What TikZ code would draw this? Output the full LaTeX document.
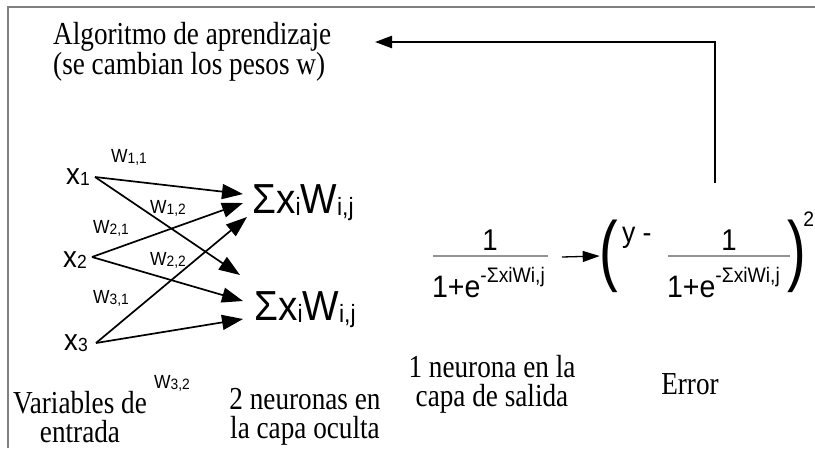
\documentclass[tikz,border=0pt]{standalone}
\usepackage{fontspec}
\setmainfont{Liberation Serif}
\newfontfamily\arial[FakeStretch=0.92]{Liberation Sans}
\newfontfamily\tms[FakeStretch=0.85]{Liberation Serif}
\usetikzlibrary{arrows.meta}
\newcommand\serifbig{\tms\fontsize{32}{29}\selectfont}
\newcommand\xin[1]{{\arial\fontsize{30}{30}\selectfont x\raisebox{-1.5pt}{\fontsize{19}{19}\selectfont #1}}}
\newcommand\wlab[1]{{\arial\fontsize{19}{19}\selectfont W\raisebox{-1pt}{\fontsize{15}{15}\selectfont #1}}}
\newcommand\sumlab{{\arial\fontsize{42}{42}\selectfont Σx\raisebox{-2pt}{\fontsize{25}{25}\selectfont i}W\raisebox{-2pt}{\fontsize{25}{25}\selectfont i,j}}}
\newcommand\denom{{\arial\fontsize{31}{31}\selectfont 1+e\raisebox{15pt}{\fontsize{21}{21}\selectfont -ΣxiWi,j}}}
\begin{document}
\begin{tikzpicture}[x=1pt,y=-1pt,
  net/.style={line width=1.7pt,-{Triangle[length=21pt,width=15pt]}},
  fb/.style={line width=2.3pt,-{Triangle[length=17pt,width=12pt]}},
  bar/.style={draw=gray!85,line width=1.3pt},
  lbl/.style={inner sep=0pt,outer sep=0pt},
  txt/.style={font=\serifbig,align=center,inner sep=0pt}]
\useasboundingbox (0,0) rectangle (815,448);
% frame
\draw[gray,line width=1.6pt] (8,448) -- (8,7) -- (815,7);
% title
\node[txt,align=left,anchor=west] (alg) at (53,52) {Algoritmo de aprendizaje\\(se cambian los pesos w)};
% inputs
\node[lbl] (x1) at (78,177) {\xin{1}};
\node[lbl] (x2) at (75,260) {\xin{2}};
\node[lbl] (x3) at (76,343) {\xin{3}};
\coordinate (s1) at (95,177);
\coordinate (s2) at (92,257);
\coordinate (s3) at (96,343);
% hidden
\node[lbl] (h1) at (303,203) {\sumlab};
\node[lbl] (h2) at (305,310) {\sumlab};
\coordinate (t11) at (243,194);
\coordinate (t21) at (243,203);
\coordinate (t31) at (247,217);
\coordinate (t12) at (240,275);
\coordinate (t22) at (243,301);
\coordinate (t32) at (243,319);
\draw[net] (s1) -- (t11);
\draw[net] (s2) -- (t21);
\draw[net] (s3) -- (t31);
\draw[net] (s1) -- (t12);
\draw[net] (s2) -- (t22);
\draw[net] (s3) -- (t32);
% weights
\node[lbl] (w11) at (129,157) {\wlab{1,1}};
\node[lbl] (w12) at (168,208) {\wlab{1,2}};
\node[lbl] (w21) at (111,228) {\wlab{2,1}};
\node[lbl] (w22) at (168,260) {\wlab{2,2}};
\node[lbl] (w31) at (111,298) {\wlab{3,1}};
\node[lbl] (w32) at (172,383) {\wlab{3,2}};
% output fraction
\node[lbl,font=\arial\fontsize{30}{30}\selectfont] (n1) at (490,240) {1};
\draw[bar] (433,256) coordinate (b1l) -- (548,256) coordinate (b1r);
\node[lbl,anchor=base west] (d1) at (432,297) {\denom};
% error expression
\node[lbl,font=\arial\fontsize{78}{78}\selectfont] (lp) at (609,256) {\scalebox{0.78}[1]{(}};
\node[lbl,font=\arial\fontsize{29}{29}\selectfont,anchor=west] (ym) at (622,238) {y -};
\node[lbl,font=\arial\fontsize{30}{30}\selectfont] (n2) at (729,240) {1};
\draw[bar] (668,256) coordinate (b2l) -- (790,256) coordinate (b2r);
\node[lbl,anchor=base west] (d2) at (667,297) {\denom};
\node[lbl,font=\arial\fontsize{78}{78}\selectfont] (rp) at (797,256) {\scalebox{0.78}[1]{)}};
\node[lbl,font=\arial\fontsize{21}{21}\selectfont,anchor=north east] (sq) at (814,212) {2};
% arrow between
\coordinate (a1) at (562,257);
\draw[line width=1.3pt,-{Triangle[length=17pt,width=11pt]}] (a1) -- (lp.west);
% feedback
\coordinate (e0) at (715,183);
\coordinate (e1) at (715,42);
\coordinate (e2) at (375,42);
\draw[fb] (e0) -- (e1) -- (e2);
% bottom labels
\node[txt] (l1) at (492,384) {1 neurona en la\\capa de salida};
\node[txt] (l2) at (690,384) {Error};
\node[txt] (l3) at (80,417) {Variables de\\entrada};
\node[txt] (l4) at (305,417) {2 neuronas en\\la capa oculta};
\end{tikzpicture}
\end{document}
